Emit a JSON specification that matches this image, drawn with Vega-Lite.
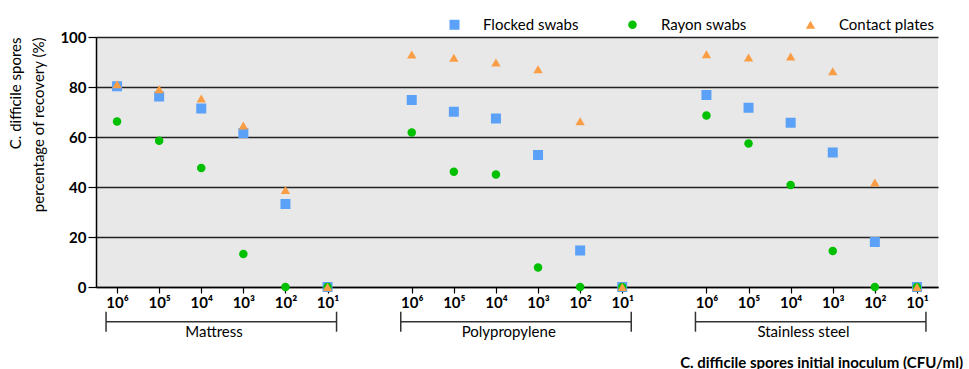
{
  "$schema": "https://vega.github.io/schema/vega-lite/v6.json",
  "padding": {"left": 8, "top": 17, "right": 4, "bottom": 2},
  "background": "white",
  "bounds": "flush",
  "spacing": 24.7,
  "title": {
    "text": "C. difficile spores initial inoculum (CFU/ml)",
    "orient": "bottom",
    "anchor": "end",
    "font": "Lato",
    "fontSize": 15,
    "fontWeight": "bold",
    "color": "#000",
    "offset": 16,
    "dx": 25
  },
  "config": {"font": "Lato", "axis": {"labelColor": "#000", "titleColor": "#000"}},
  "vconcat": [
    {
      "width": 842,
      "height": 250,
      "view": {"fill": "#E8E8E8", "stroke": null},
      "data": {
        "values": [
          {"method": "Flocked swabs", "surface": "Mattress", "inoculum": "10⁶", "recovery": 80.3},
          {"method": "Flocked swabs", "surface": "Mattress", "inoculum": "10⁵", "recovery": 76.2},
          {"method": "Flocked swabs", "surface": "Mattress", "inoculum": "10⁴", "recovery": 71.4},
          {"method": "Flocked swabs", "surface": "Mattress", "inoculum": "10³", "recovery": 61.6},
          {"method": "Flocked swabs", "surface": "Mattress", "inoculum": "10²", "recovery": 33.2},
          {"method": "Flocked swabs", "surface": "Mattress", "inoculum": "10¹", "recovery": 0},
          {"method": "Flocked swabs", "surface": "Polypropylene", "inoculum": "10⁶", "recovery": 74.8},
          {"method": "Flocked swabs", "surface": "Polypropylene", "inoculum": "10⁵", "recovery": 70.1},
          {"method": "Flocked swabs", "surface": "Polypropylene", "inoculum": "10⁴", "recovery": 67.4},
          {"method": "Flocked swabs", "surface": "Polypropylene", "inoculum": "10³", "recovery": 52.8},
          {"method": "Flocked swabs", "surface": "Polypropylene", "inoculum": "10²", "recovery": 14.6},
          {"method": "Flocked swabs", "surface": "Polypropylene", "inoculum": "10¹", "recovery": 0},
          {"method": "Flocked swabs", "surface": "Stainless steel", "inoculum": "10⁶", "recovery": 76.8},
          {"method": "Flocked swabs", "surface": "Stainless steel", "inoculum": "10⁵", "recovery": 71.7},
          {"method": "Flocked swabs", "surface": "Stainless steel", "inoculum": "10⁴", "recovery": 65.7},
          {"method": "Flocked swabs", "surface": "Stainless steel", "inoculum": "10³", "recovery": 53.8},
          {"method": "Flocked swabs", "surface": "Stainless steel", "inoculum": "10²", "recovery": 18.0},
          {"method": "Flocked swabs", "surface": "Stainless steel", "inoculum": "10¹", "recovery": 0},
          {"method": "Rayon swabs", "surface": "Mattress", "inoculum": "10⁶", "recovery": 66.2},
          {"method": "Rayon swabs", "surface": "Mattress", "inoculum": "10⁵", "recovery": 58.5},
          {"method": "Rayon swabs", "surface": "Mattress", "inoculum": "10⁴", "recovery": 47.6},
          {"method": "Rayon swabs", "surface": "Mattress", "inoculum": "10³", "recovery": 13.2},
          {"method": "Rayon swabs", "surface": "Mattress", "inoculum": "10²", "recovery": 0},
          {"method": "Rayon swabs", "surface": "Mattress", "inoculum": "10¹", "recovery": 0},
          {"method": "Rayon swabs", "surface": "Polypropylene", "inoculum": "10⁶", "recovery": 61.8},
          {"method": "Rayon swabs", "surface": "Polypropylene", "inoculum": "10⁵", "recovery": 46.1},
          {"method": "Rayon swabs", "surface": "Polypropylene", "inoculum": "10⁴", "recovery": 45.0},
          {"method": "Rayon swabs", "surface": "Polypropylene", "inoculum": "10³", "recovery": 7.8},
          {"method": "Rayon swabs", "surface": "Polypropylene", "inoculum": "10²", "recovery": 0},
          {"method": "Rayon swabs", "surface": "Polypropylene", "inoculum": "10¹", "recovery": 0},
          {"method": "Rayon swabs", "surface": "Stainless steel", "inoculum": "10⁶", "recovery": 68.6},
          {"method": "Rayon swabs", "surface": "Stainless steel", "inoculum": "10⁵", "recovery": 57.4},
          {"method": "Rayon swabs", "surface": "Stainless steel", "inoculum": "10⁴", "recovery": 40.8},
          {"method": "Rayon swabs", "surface": "Stainless steel", "inoculum": "10³", "recovery": 14.4},
          {"method": "Rayon swabs", "surface": "Stainless steel", "inoculum": "10²", "recovery": 0},
          {"method": "Rayon swabs", "surface": "Stainless steel", "inoculum": "10¹", "recovery": 0},
          {"method": "Contact plates", "surface": "Mattress", "inoculum": "10⁶", "recovery": 81.1},
          {"method": "Contact plates", "surface": "Mattress", "inoculum": "10⁵", "recovery": 79.1},
          {"method": "Contact plates", "surface": "Mattress", "inoculum": "10⁴", "recovery": 75.4},
          {"method": "Contact plates", "surface": "Mattress", "inoculum": "10³", "recovery": 64.6},
          {"method": "Contact plates", "surface": "Mattress", "inoculum": "10²", "recovery": 38.8},
          {"method": "Contact plates", "surface": "Mattress", "inoculum": "10¹", "recovery": 0},
          {"method": "Contact plates", "surface": "Polypropylene", "inoculum": "10⁶", "recovery": 93.0},
          {"method": "Contact plates", "surface": "Polypropylene", "inoculum": "10⁵", "recovery": 91.7},
          {"method": "Contact plates", "surface": "Polypropylene", "inoculum": "10⁴", "recovery": 89.8},
          {"method": "Contact plates", "surface": "Polypropylene", "inoculum": "10³", "recovery": 87.1},
          {"method": "Contact plates", "surface": "Polypropylene", "inoculum": "10²", "recovery": 66.3},
          {"method": "Contact plates", "surface": "Polypropylene", "inoculum": "10¹", "recovery": 0},
          {"method": "Contact plates", "surface": "Stainless steel", "inoculum": "10⁶", "recovery": 93.1},
          {"method": "Contact plates", "surface": "Stainless steel", "inoculum": "10⁵", "recovery": 91.8},
          {"method": "Contact plates", "surface": "Stainless steel", "inoculum": "10⁴", "recovery": 92.2},
          {"method": "Contact plates", "surface": "Stainless steel", "inoculum": "10³", "recovery": 86.3},
          {"method": "Contact plates", "surface": "Stainless steel", "inoculum": "10²", "recovery": 41.8},
          {"method": "Contact plates", "surface": "Stainless steel", "inoculum": "10¹", "recovery": 0}
        ]
      },
      "transform": [{"calculate": "datum.surface + '|' + datum.inoculum", "as": "cat"}],
      "mark": {"type": "point", "filled": true, "opacity": 1, "strokeWidth": 0},
      "encoding": {
        "x": {
          "field": "cat",
          "type": "nominal",
          "sort": null,
          "scale": {
            "type": "point",
            "padding": 0.5,
            "domain": ["Mattress|10⁶", "Mattress|10⁵", "Mattress|10⁴", "Mattress|10³", "Mattress|10²", "Mattress|10¹", "gap1",
                       "Polypropylene|10⁶", "Polypropylene|10⁵", "Polypropylene|10⁴", "Polypropylene|10³", "Polypropylene|10²", "Polypropylene|10¹", "gap2",
                       "Stainless steel|10⁶", "Stainless steel|10⁵", "Stainless steel|10⁴", "Stainless steel|10³", "Stainless steel|10²", "Stainless steel|10¹"]
          },
          "axis": {
            "values": ["Mattress|10⁶", "Mattress|10⁵", "Mattress|10⁴", "Mattress|10³", "Mattress|10²", "Mattress|10¹",
                       "Polypropylene|10⁶", "Polypropylene|10⁵", "Polypropylene|10⁴", "Polypropylene|10³", "Polypropylene|10²", "Polypropylene|10¹",
                       "Stainless steel|10⁶", "Stainless steel|10⁵", "Stainless steel|10⁴", "Stainless steel|10³", "Stainless steel|10²", "Stainless steel|10¹"],
            "labelExpr": "split(datum.value, '|')[1]",
            "labelAngle": 0,
            "labelFont": "Lato",
            "labelFontWeight": "bold",
            "labelFontSize": 15,
            "labelPadding": 2,
            "tickSize": 6,
            "tickColor": "#000",
            "tickWidth": 1.2,
            "domainColor": "#000",
            "domainWidth": 1.5,
            "grid": false,
            "title": null
          }
        },
        "y": {
          "field": "recovery",
          "type": "quantitative",
          "scale": {"domain": [0, 100], "nice": false},
          "axis": {
            "values": [0, 20, 40, 60, 80, 100],
            "grid": true,
            "gridColor": "#222",
            "gridWidth": 1.5,
            "domainColor": "#000",
            "domainWidth": 1.5,
            "tickColor": "#000",
            "tickSize": 8,
            "tickWidth": 1.2,
            "labelFont": "Lato",
            "labelFontWeight": "bold",
            "labelFontSize": 15,
            "labelPadding": 2,
            "title": ["C. difficile spores", "percentage of recovery (%)"],
            "titleFont": "Lato",
            "titleFontWeight": "normal",
            "titleFontSize": 15,
            "titleAnchor": "end",
            "titleLineHeight": 23,
            "titlePadding": 13
          }
        },
        "color": {
          "field": "method",
          "type": "nominal",
          "scale": {"domain": ["Flocked swabs", "Rayon swabs", "Contact plates"], "range": ["#5BA1F7", "#00C000", "#FA9E45"]},
          "legend": {
            "title": null,
            "orient": "none",
            "legendX": 351,
            "legendY": -20,
            "direction": "horizontal",
            "columns": 3,
            "gridAlign": "all",
            "columnPadding": 46,
            "labelOffset": 21,
            "labelFont": "Lato",
            "labelFontSize": 15,
            "labelColor": "#000",
            "labelLimit": 200,
            "padding": 0,
            "symbolStrokeWidth": 0
          }
        },
        "shape": {
          "field": "method",
          "type": "nominal",
          "scale": {"domain": ["Flocked swabs", "Rayon swabs", "Contact plates"], "range": ["square", "circle", "triangle-up"]}
        },
        "size": {
          "field": "method",
          "type": "nominal",
          "scale": {"type": "ordinal", "domain": ["Flocked swabs", "Rayon swabs", "Contact plates"], "range": [100, 72, 88]}
        }
      }
    },
    {
      "width": 842,
      "height": 20,
      "view": {"fill": null, "stroke": null},
      "data": {
        "values": [
          {"surface": "Mattress", "first": "Mattress|10⁶", "last": "Mattress|10¹"},
          {"surface": "Polypropylene", "first": "Polypropylene|10⁶", "last": "Polypropylene|10¹"},
          {"surface": "Stainless steel", "first": "Stainless steel|10⁶", "last": "Stainless steel|10¹"}
        ]
      },
      "encoding": {
        "x": {
          "field": "first",
          "type": "nominal",
          "sort": null,
          "axis": null,
          "scale": {
            "type": "point",
            "padding": 0.5,
            "domain": ["Mattress|10⁶", "Mattress|10⁵", "Mattress|10⁴", "Mattress|10³", "Mattress|10²", "Mattress|10¹", "gap1",
                       "Polypropylene|10⁶", "Polypropylene|10⁵", "Polypropylene|10⁴", "Polypropylene|10³", "Polypropylene|10²", "Polypropylene|10¹", "gap2",
                       "Stainless steel|10⁶", "Stainless steel|10⁵", "Stainless steel|10⁴", "Stainless steel|10³", "Stainless steel|10²", "Stainless steel|10¹"]
          }
        }
      },
      "layer": [
        {
          "mark": {"type": "rule", "xOffset": -11, "x2Offset": 9, "strokeWidth": 1.5, "color": "#333"},
          "encoding": {"x2": {"field": "last"}}
        },
        {
          "mark": {"type": "tick", "xOffset": -11, "size": 9, "thickness": 1.5, "color": "#333", "opacity": 1}
        },
        {
          "mark": {"type": "tick", "xOffset": 9, "size": 9, "thickness": 1.5, "color": "#333", "opacity": 1},
          "encoding": {"x": {"field": "last", "type": "nominal", "axis": null}}
        },
        {
          "mark": {"type": "text", "dx": 97, "dy": 10, "fontSize": 15, "font": "Lato", "color": "#000", "baseline": "middle"},
          "encoding": {"text": {"field": "surface"}}
        }
      ]
    }
  ]
}
